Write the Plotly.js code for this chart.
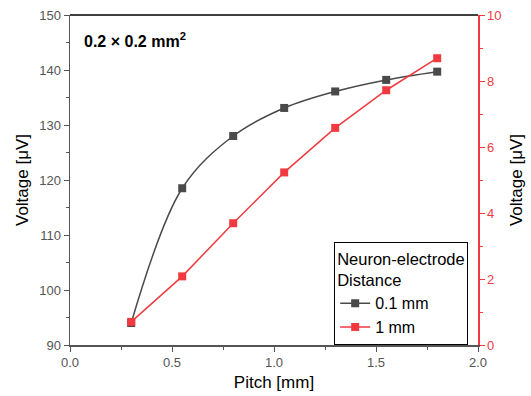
<!DOCTYPE html>
<html><head><meta charset="utf-8">
<script src="https://cdn.plot.ly/plotly-3.0.1.min.js"></script>
<style>html,body{margin:0;padding:0;background:#fff}#c{width:531px;height:396px}</style>
</head><body><div id="c"></div>
<script>
const pitch = [0.3, 0.55, 0.8, 1.05, 1.3, 1.55, 1.8];
const v01mm = [94.0, 118.5, 128.0, 133.1, 136.1, 138.2, 139.7];
const v1mm = [0.70, 2.08, 3.69, 5.23, 6.58, 7.72, 8.69];
const names = ['0.1 mm', '1 mm'];
const black = '#4a4a4a', red = '#f03a3f';
const F = 'Liberation Sans, Arial, sans-serif';

const traces = [
  {x: pitch, y: v01mm, name: names[0], type: 'scatter', mode: 'lines+markers',
   line: {color: black, width: 1.5, shape: 'spline', smoothing: 1},
   marker: {symbol: 'square', size: 8, color: black}},
  {x: pitch, y: v1mm, name: names[1], type: 'scatter', mode: 'lines+markers', yaxis: 'y2',
   line: {color: red, width: 1.5},
   marker: {symbol: 'square', size: 8, color: red}}
];

const layout = {
  width: 531, height: 396,
  margin: {l: 69.5, r: 53, t: 14.7, b: 51.3},
  paper_bgcolor: '#fff', plot_bgcolor: '#fff',
  font: {family: F, size: 13, color: '#000'},
  showlegend: true,
  legend: {x: 0.6475, y: 0.155, xanchor: 'left', yanchor: 'middle',
    bordercolor: '#000', borderwidth: 1, bgcolor: '#fff',
    font: {family: F, size: 16, color: '#000'},
    title: {text: 'Neuron-electrode<br>Distance', font: {family: F, size: 16.5, color: '#000'}},
    tracegroupgap: 0, itemwidth: 30},
  xaxis: {range: [0, 2], dtick: 0.5, tickformat: '.1f', ticks: 'outside', ticklen: 5,
    tickcolor: '#555', linecolor: '#555', linewidth: 1.5, showline: true, showgrid: false, zeroline: false,
    tickfont: {color: '#555', size: 13},
    minor: {dtick: 0.25, ticks: 'outside', ticklen: 3, tickcolor: '#555'},
    title: {text: 'Pitch [mm]', font: {size: 17, color: '#000'}, standoff: 7}},
  yaxis: {range: [90, 150], dtick: 10, ticks: 'outside', ticklen: 5,
    tickcolor: '#555', linecolor: '#555', linewidth: 1.5, showline: true, showgrid: false, zeroline: false,
    tickfont: {color: '#555', size: 13},
    minor: {dtick: 5, ticks: 'outside', ticklen: 3, tickcolor: '#555'},
    title: {text: 'Voltage [μV]', font: {size: 17, color: '#000'}, standoff: 6}},
  yaxis2: {range: [0, 10], dtick: 2, overlaying: 'y', side: 'right', ticks: 'outside', ticklen: 5,
    tickcolor: red, linecolor: red, linewidth: 1.5, showline: true, showgrid: false, zeroline: false,
    tickfont: {color: red, size: 13},
    minor: {dtick: 1, ticks: 'outside', ticklen: 3, tickcolor: red},
    title: {text: 'Voltage [μV]', font: {size: 17, color: '#000'}, standoff: 9}},
  shapes: [{type: 'line', xref: 'paper', yref: 'paper', x0: 0, x1: 1, y0: 1, y1: 1,
    line: {color: '#000', width: 1.5}}],
  annotations: [{xref: 'paper', yref: 'paper', x: 0.03, y: 0.96, xanchor: 'left', yanchor: 'top',
    showarrow: false, text: '<b>0.2 × 0.2 mm<sup>2</sup></b>', font: {family: F, size: 16, color: '#000'}}]
};
Plotly.newPlot('c', traces, layout, {displayModeBar: false, staticPlot: true});
</script></body></html>
